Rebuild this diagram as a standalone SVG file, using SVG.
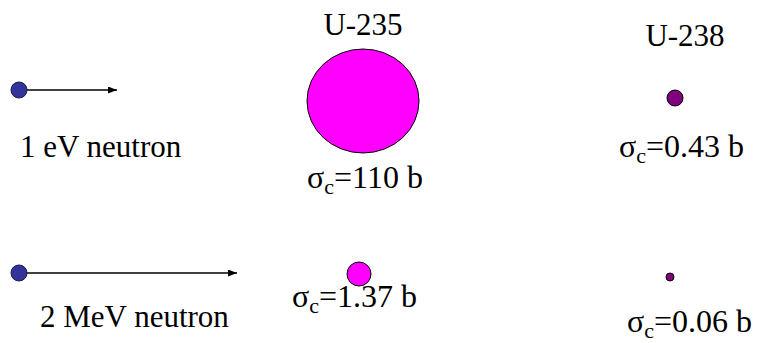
<svg xmlns="http://www.w3.org/2000/svg" width="759" height="343" viewBox="0 0 759 343" font-family="'Liberation Serif','Times New Roman',serif">
<style>
text{font-family:"Liberation Serif","Times New Roman",serif;font-size:31px;fill:#000}
.sig{font-size:32px}
.sub{font-size:22px}
.neutron{fill:#333399;stroke:#1a1a4d;stroke-width:1}
.u235{fill:#FF00FF;stroke:#000;stroke-width:1}
.u238{fill:#800080;stroke:#000;stroke-width:1}
.arrow{stroke:#000;stroke-width:1.5;fill:none;marker-end:url(#ah)}
</style>
<defs>
<marker id="ah" viewBox="0 0 10 10" refX="10" refY="5" markerWidth="9" markerHeight="7" markerUnits="userSpaceOnUse" orient="auto" preserveAspectRatio="none">
<path d="M0,0 L10,5 L0,10 z" fill="#000"/>
</marker>
</defs>
<rect width="759" height="343" fill="#fff"/>
<g id="connectors">
<line class="arrow" x1="27" y1="90" x2="117" y2="90"/>
<line class="arrow" x1="27" y1="273" x2="237" y2="273"/>
</g>
<g id="neutron1"><circle class="neutron" cx="19" cy="90" r="8"/><text x="20" y="157">1 eV neutron</text></g>
<g id="neutron2"><circle class="neutron" cx="19" cy="273" r="8"/><text x="40" y="327">2 MeV neutron</text></g>
<g id="u235-title"><text x="363" y="35" text-anchor="middle">U-235</text></g>
<g id="u238-title"><text x="685" y="46" text-anchor="middle">U-238</text></g>
<g id="u235-thermal"><ellipse class="u235" cx="363" cy="101" rx="56" ry="52"/><text class="sig" x="307" y="188">σ<tspan class="sub" dy="6">c</tspan><tspan dy="-6">=110 b</tspan></text></g>
<g id="u238-thermal"><circle class="u238" cx="675" cy="98" r="8"/><text class="sig" x="619" y="157">σ<tspan class="sub" dy="6">c</tspan><tspan dy="-6">=0.43 b</tspan></text></g>
<g id="u235-fast"><circle class="u235" cx="359" cy="274" r="12"/><text class="sig" x="292" y="307">σ<tspan class="sub" dy="6">c</tspan><tspan dy="-6">=1.37 b</tspan></text></g>
<g id="u238-fast"><circle class="u238" cx="670" cy="277" r="4"/><text class="sig" x="627" y="332">σ<tspan class="sub" dy="6">c</tspan><tspan dy="-6">=0.06 b</tspan></text></g>
</svg>
